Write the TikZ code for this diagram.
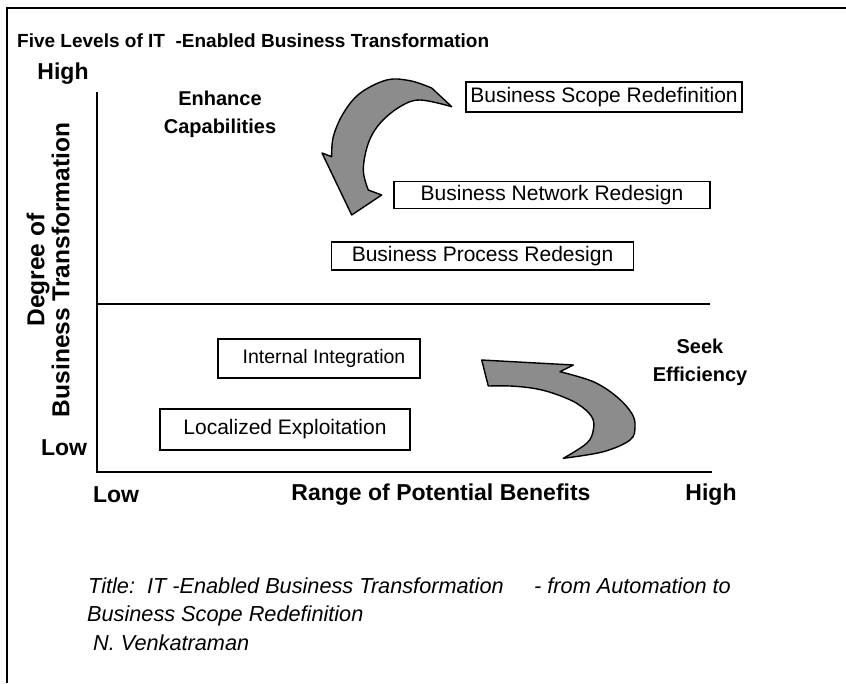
\documentclass[tikz,border=0pt]{standalone}
\usepackage{fontspec}
\setmainfont{Liberation Sans}
\begin{document}
\begin{tikzpicture}[x=1pt,y=-1pt,
  boxlabel/.style={draw,line width=1.6pt,inner sep=0pt,font=\fontsize{21}{24}\selectfont},
  boldlabel/.style={font=\fontsize{20}{28}\selectfont\bfseries,inner sep=0pt,align=center},
  axislabel/.style={font=\fontsize{23}{26}\selectfont\bfseries,inner sep=0pt,align=center},
  notelabel/.style={font=\fontsize{21.7}{24}\selectfont\itshape,inner sep=0pt,anchor=base west},
  axisline/.style={line width=2.4pt},
  bigarrow/.style={fill=black!45,draw=black,line width=1.4pt,line join=round}]
\useasboundingbox (0,0) rectangle (846,683);
% frame
\coordinate (fb) at (7,683);
\coordinate (fc) at (7,8);
\coordinate (fr) at (846,8);
\draw[line width=2pt] (fb) -- (fc) -- (fr);
% title
\node[font=\fontsize{19}{24}\selectfont\bfseries,inner sep=0pt,anchor=base west] (title) at (17,47) {Five Levels of IT\ \ -Enabled Business Transformation};
% axes
\coordinate (ytop) at (97,92);
\coordinate (orig) at (97,472);
\coordinate (xend) at (712,472);
\coordinate (midl) at (97,304);
\coordinate (midr) at (710,304);
\draw[axisline] (ytop) -- (orig) -- (xend);
\draw[axisline] (midl) -- (midr);
% axis labels
\node[axislabel] (yhigh) at (63,74) {High};
\node[axislabel] (ylow) at (64,448) {Low};
\node[axislabel,rotate=90,font=\fontsize{24.5}{25}\selectfont\bfseries] (ytitle) at (48,270) {Degree of\\Business Transformation};
\node[axislabel] (xlow) at (116,495) {Low};
\node[axislabel] (xtitle) at (441,495) {Range of Potential Benefits};
\node[axislabel] (xhigh) at (711,495) {High};
% category labels
\node[boldlabel] (enhance) at (220,114) {Enhance\\Capabilities};
\node[boldlabel] (seek) at (700,362) {Seek\\Efficiency};
% boxes
\node[boxlabel,minimum width=276pt,minimum height=30pt] (scope) at (604,97) {Business Scope Redefinition};
\node[boxlabel,minimum width=316pt,minimum height=27pt] (network) at (552,195) {Business Network Redesign};
\node[boxlabel,minimum width=302pt,minimum height=28pt] (process) at (482.5,256) {Business Process Redesign};
\node[boxlabel,minimum width=202pt,minimum height=39pt,font=\fontsize{19.5}{22}\selectfont] (internal) at (319,358.5) {\hspace{10pt}Internal Integration};
\node[boxlabel,minimum width=250pt,minimum height=41pt] (localized) at (285,429.5) {Localized Exploitation};
% top curved arrow
\filldraw[bigarrow] plot[smooth,tension=0.6] coordinates {(431.7,88) (410,80.7) (386.7,80) (360,93.3) (343.3,113.3) (333.3,136.7) (331.7,156.7)}
  -- (322,153) -- (351.7,215) -- (381.7,195) -- (368.3,190)
  -- plot[smooth,tension=0.6] coordinates {(368.3,190) (363.3,170) (368.3,143.3) (380,123.3) (400,106.7) (420,100) (451.7,106.7)}
  -- cycle;
% bottom curved arrow
\filldraw[bigarrow] (481.7,360) -- (573.3,365) -- (560,371.7)
  -- plot[smooth,tension=0.6] coordinates {(560,371.7) (593.3,381.7) (616.7,396.7) (631.7,413.3) (635,426.7) (630,440) (603.3,451.7) (563.3,458.3)}
  -- plot[smooth,tension=0.6] coordinates {(563.3,458.3) (586.7,443.3) (593.3,430) (591.7,416.7) (576.7,403.3) (553.3,393.3) (533.3,388.3) (510,386) (488.3,386)}
  -- cycle;
% footnote
\node[notelabel] (note1) at (88,593) {Title:\ \ IT -Enabled Business Transformation};
\node[notelabel] (note1b) at (534,593) {- from Automation to};
\node[notelabel] (note2) at (87,621) {Business Scope Redefinition};
\node[notelabel] (note3) at (93,650) {N. Venkatraman};
\end{tikzpicture}
\end{document}
